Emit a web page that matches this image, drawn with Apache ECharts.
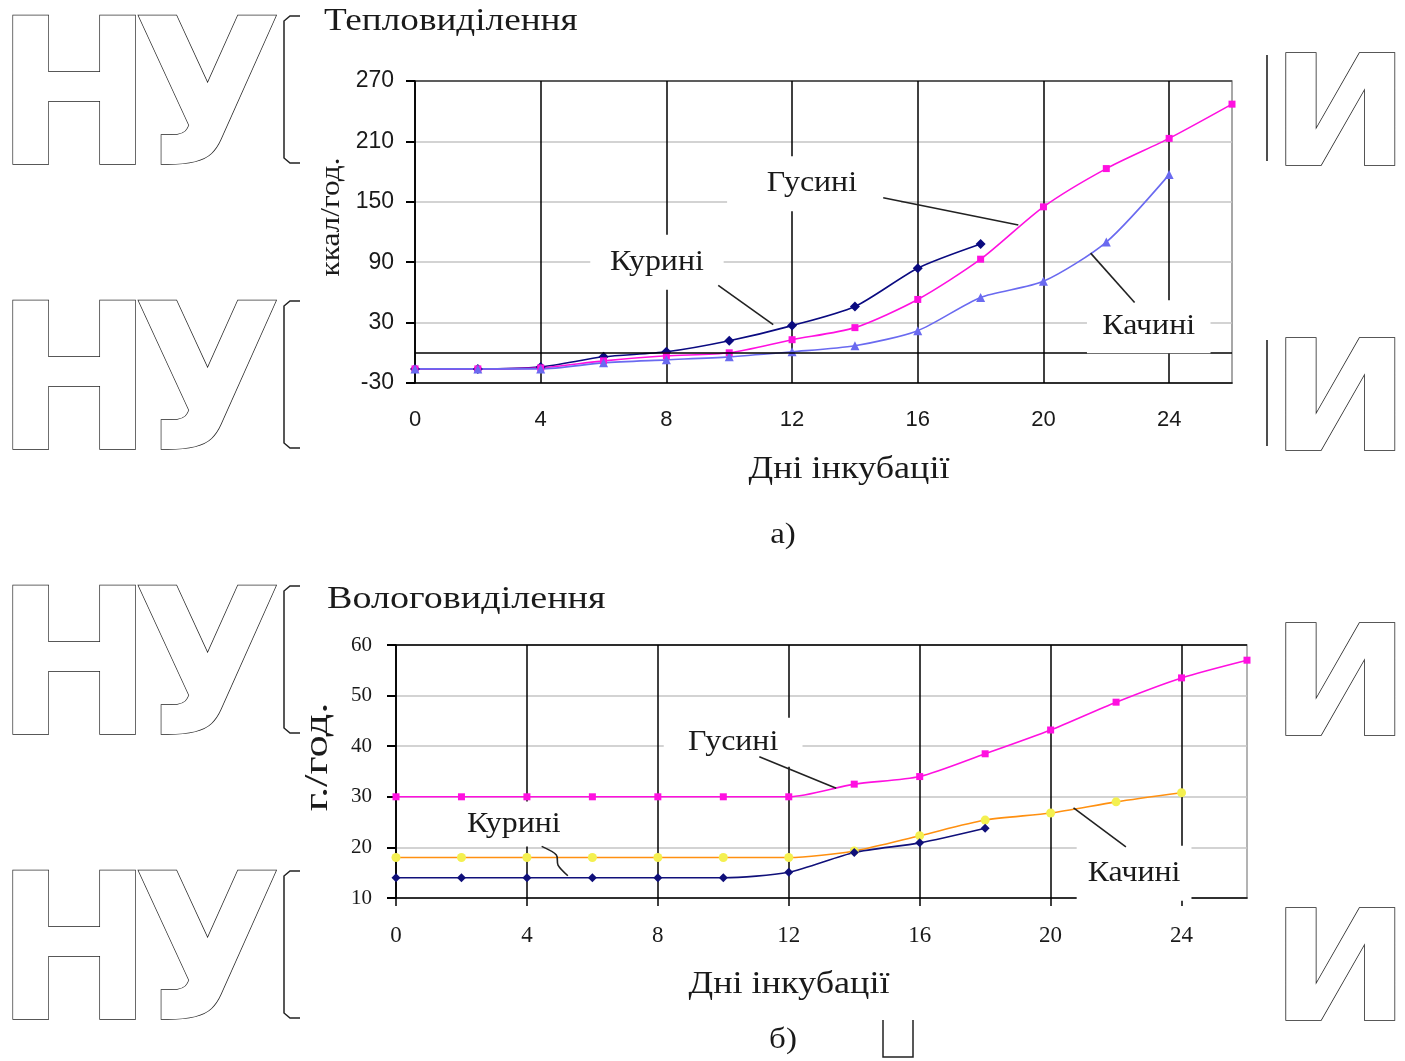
<!DOCTYPE html>
<html><head><meta charset="utf-8">
<script src="https://cdn.jsdelivr.net/npm/echarts@6/dist/echarts.min.js"></script>
<style>html,body{margin:0;padding:0;background:#fff}#c{width:1405px;height:1061px}</style>
</head><body><div id="c"></div>
<script>
// ---------- a) Тепловиділення (ккал/год.) ----------
const heatDaysGoose    = [0,2,4,6,8,10,12,14,16,18,20,22,24,26];
const heatGoose        = [-16,-16,-15,-8,-3,0,13,25,53,93,145,183,213,247];
const heatDaysChicken  = [0,2,4,6,8,10,12,14,16,18];
const heatChicken      = [-16,-16,-14,-4,1,12,27,46,84,108];
const heatDaysDuck     = [0,2,4,6,8,10,12,14,16,18,20,22,24];
const heatDuck         = [-16,-16,-16,-10,-7,-4,1,7,22,55,71,110,177];
const heatYTicks       = [-30,30,90,150,210,270];

// ---------- б) Вологовиділення (г./год.) ----------
const moistDaysGoose   = [0,2,4,6,8,10,12,14,16,18,20,22,24,26];
const moistGoose       = [30,30,30,30,30,30,30,32.5,34,38.5,43.2,48.7,53.5,57];
const moistDaysChicken = [0,2,4,6,8,10,12,14,16,18];
const moistChicken     = [14,14,14,14,14,14,15.1,19,20.9,23.8];
const moistDaysDuck    = [0,2,4,6,8,10,12,14,16,18,20,22,24];
const moistDuck        = [18,18,18,18,18,18,18,19.3,22.3,25.4,26.8,29,30.8];
const moistYTicks      = [10,20,30,40,50,60];

const dayTicks = [0,4,8,12,16,20,24];
const names = {goose:'Гусині', chicken:'Курині', duck:'Качині'};

const pairs = (xs, ys) => xs.map((x,i)=>[x, ys[i]]);
const SERIF = '"Liberation Serif","Times New Roman",serif';
const SANS = '"Liberation Sans",Arial,sans-serif';
const TXT = '#1a1a1a';

const chart = echarts.init(document.getElementById('c'), null, {renderer:'canvas'});

function xAxisCfg(gridIndex, labelFont, labelSize, margin, tickOut) {
  return {
    type:'value', gridIndex, min:0, max:26,
    axisLine:{onZero:false, lineStyle:{color:'#000', width:1.5}},
    axisTick:{show:tickOut, customValues:dayTicks, inside:false, length:8, lineStyle:{color:'#000', width:1.5}},
    axisLabel:{customValues:dayTicks, margin, color:TXT, fontFamily:labelFont, fontSize:labelSize},
    splitLine:{show:true, lineStyle:{color:'#000', width:1.5}}
  };
}
function yAxisCfg(gridIndex, min, max, ticks, labelFont, labelSize, margin, topColor) {
  return {
    type:'value', gridIndex, min, max,
    axisLine:{show:true, lineStyle:{color:'#000', width:1.5}},
    axisTick:{show:true, customValues:ticks, length:9, lineStyle:{color:'#000', width:2}},
    axisLabel:{customValues:ticks, margin, color:TXT, fontFamily:labelFont, fontSize:labelSize},
    splitLine:{show:true, lineStyle:{color:['#c4c4c4','#c4c4c4','#c4c4c4','#c4c4c4','#c4c4c4',topColor], width:1.5}}
  };
}
function lineSeries(name, xi, yi, data, color, symbol, size, symColor) {
  return {
    name, type:'line', xAxisIndex:xi, yAxisIndex:yi, data,
    smooth:0.25, symbol, symbolSize:size, showSymbol:true,
    lineStyle:{color, width:1.6},
    itemStyle:{color: symColor || color},
    z:3, animation:false
  };
}

const option = {
  animation:false,
  backgroundColor:'#fff',
  grid:[
    {left:415, top:81, right:173, bottom:678, show:true, borderColor:'#8a8a8a', borderWidth:1.5, backgroundColor:'transparent'},
    {left:396, top:645, right:158, bottom:163, show:true, borderColor:'#9a9a9a', borderWidth:1.5, backgroundColor:'transparent'}
  ],
  xAxis:[
    xAxisCfg(0, SANS, 22, 26, false),
    xAxisCfg(1, SERIF, 23, 26, true)
  ],
  yAxis:[
    yAxisCfg(0, -30, 270, heatYTicks, SANS, 23, 21, '#444'),
    yAxisCfg(1, 10, 60, moistYTicks, SERIF, 21, 24, '#000')
  ],
  series:[
    Object.assign(lineSeries(names.chicken, 0, 0, pairs(heatDaysChicken, heatChicken), '#0a0a80', 'diamond', 10), {
      markLine:{silent:true, symbol:'none', label:{show:false},
        lineStyle:{color:'#000', width:1.5, type:'solid'}, data:[{yAxis:0}]}
    }),
    lineSeries(names.goose, 0, 0, pairs(heatDaysGoose, heatGoose), '#ff10e0', 'rect', 7),
    lineSeries(names.duck, 0, 0, pairs(heatDaysDuck, heatDuck), '#6a6af0', 'triangle', 9),
    lineSeries(names.goose, 1, 1, pairs(moistDaysGoose, moistGoose), '#ff10e0', 'rect', 7),
    lineSeries(names.duck, 1, 1, pairs(moistDaysDuck, moistDuck), '#ff9010', 'circle', 9, '#f4f050'),
    lineSeries(names.chicken, 1, 1, pairs(moistDaysChicken, moistChicken), '#10107a', 'diamond', 9)
  ]
};
chart.setOption(option);

// ---------- annotations (data coordinates) ----------
const annotations = [
  {g:0, text:names.goose,   at:[12.7,168], pad:[13,40,13,36], line:[[14.9,154],[19.2,127]]},
  {g:0, text:names.chicken, at:[7.7,90],   pad:[13,18,13,18], line:[[9.65,67],[11.4,28]]},
  {g:0, text:names.duck,    at:[23.35,26], pad:[12,14,12,14], line:[[21.5,99],[22.9,50]]},
  {g:1, text:names.goose,   at:[10.3,40.8],pad:[10,22,10,22], line:[[11.1,37.9],[13.45,31.7]]},
  {g:1, text:names.chicken, at:[3.6,24.6], pad:[8,10,8,10],   line:[[4.45,20.2],[4.9,18.5],[4.95,16.5],[5.25,14.4]]},
  {g:1, text:names.duck,    at:[22.55,14.9],pad:[12,10,14,10],line:[[20.7,27.8],[22.3,20.1]]}
];

const graphics = [];
// watermark fragments (background scan decoration)
const rowsTop = [15, 300, 585, 870];
const wmStyle = (text, size) => ({text, font:'bold '+size+'px "DejaVu Sans"', fill:'#fff', stroke:'#222',
  lineWidth:1.5, align:'left', verticalAlign:'middle'});
rowsTop.forEach((t, r) => {
  graphics.push({type:'text', x:-4, y:t + 96, scaleX:0.92, z:-10, silent:true, style:wmStyle('Н', 203)});
  graphics.push({type:'text', x:133, y:t + 96, scaleX:0.95, z:-10, silent:true, style:wmStyle('У', 203)});
  graphics.push({type:'text', x:1271, y:t + 110, scaleX:1.075, z:-10, silent:true, style:wmStyle('И', 154)});
  graphics.push({type:'polyline', z:-10, silent:true,
    shape:{points:[[300,t+1],[290,t+1],[284,t+6],[284,t+143],[290,t+148],[300,t+148]]},
    style:{stroke:'#222', lineWidth:1.5, fill:null}});
  if (r < 2) graphics.push({type:'line', z:-10, silent:true,
    shape:{x1:1267, y1:t+40, x2:1267, y2:t+146}, style:{stroke:'#222', lineWidth:1.6}});
});
graphics.push({type:'polyline', z:-10, silent:true,
  shape:{points:[[883,1020],[883,1057],[913,1057],[913,1020]]}, style:{stroke:'#222', lineWidth:1.5, fill:null}});

// titles, axis names, captions
const addText = (text, x, y, size, opts={}) => graphics.push(Object.assign({type:'text', x, y, z:50, silent:true,
  scaleX: opts.sx || 1, rotation: opts.rot || 0,
  style:{text, font:size+'px '+SERIF, fill:TXT, align:opts.align||'left', verticalAlign:'middle'}}));
addText('Тепловиділення', 324, 22, 31, {sx:1.2});
addText('Вологовиділення', 327, 600, 31, {sx:1.23});
addText('Дні інкубації', 849, 470, 32, {align:'center', sx:1.13});
addText('Дні інкубації', 789, 985, 32, {align:'center', sx:1.13});
addText('а)', 783, 535, 30, {align:'center', sx:1.1});
addText('б)', 783, 1040, 30, {align:'center', sx:1.1});
addText('ккал/год.', 332, 217, 27, {align:'center', sx:1.16, rot:Math.PI/2});
addText('г./год.', 318, 757, 33, {align:'center', sx:1.35, rot:Math.PI/2});

annotations.forEach(a => {
  const p = chart.convertToPixel({gridIndex:a.g}, a.at);
  graphics.push({type:'text', x:p[0], y:p[1], z:20, silent:true, scaleX:1.1,
    style:{text:a.text, font:'29px '+SERIF, fill:TXT, align:'center', verticalAlign:'middle',
      backgroundColor:'#fff', padding:a.pad}});
  const pts = a.line.map(c => chart.convertToPixel({gridIndex:a.g}, c));
  graphics.push({type:'polyline', z:25, silent:true, shape:{points:pts, smooth:0.3},
    style:{stroke:'#222', lineWidth:1.6, fill:null}});
});

chart.setOption({graphic:graphics});
</script>
</body></html>
